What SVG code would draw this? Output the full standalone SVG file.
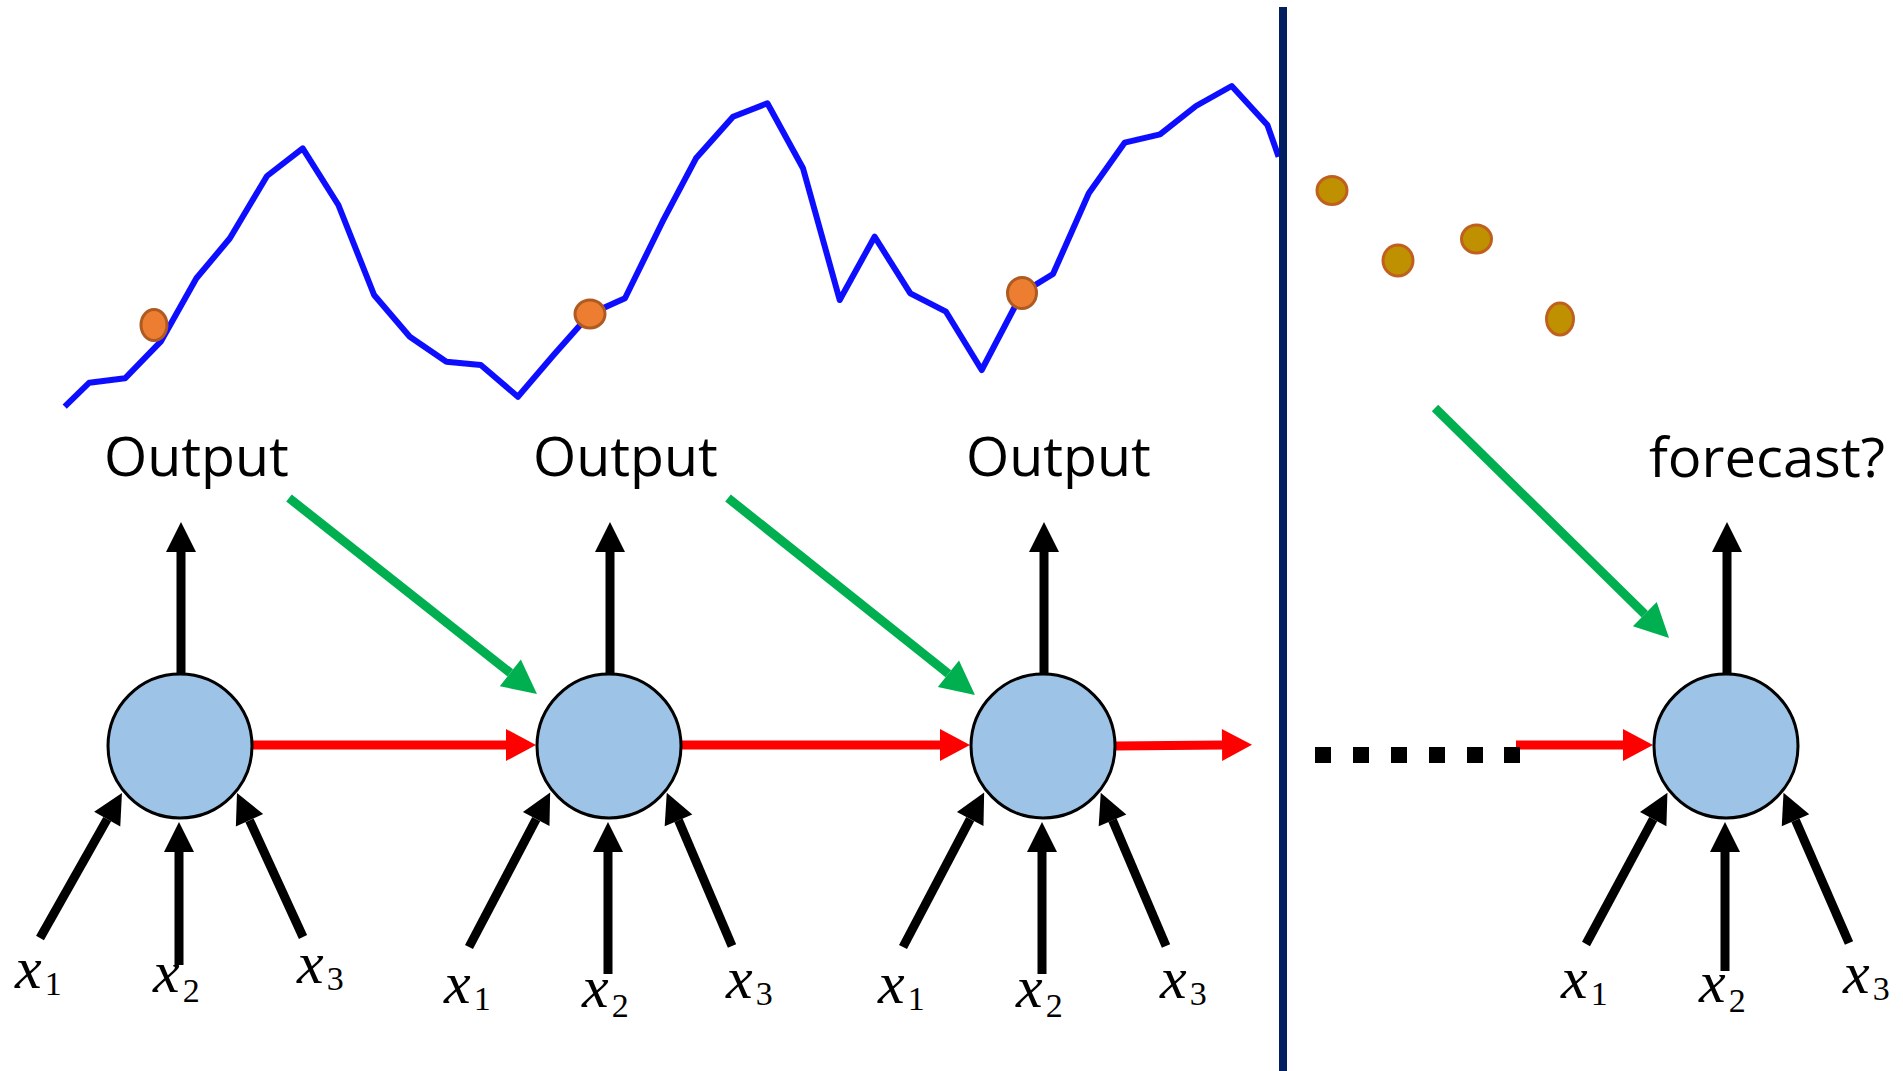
<svg xmlns="http://www.w3.org/2000/svg" width="1903" height="1071" viewBox="0 0 1903 1071">
<style>
.lbl{font-family:"Open Sans","Liberation Sans",sans-serif;font-size:55.5px;fill:#000}
.xv{font-family:"Liberation Serif","Times New Roman",serif;font-style:italic;font-size:60px;fill:#000}
.sub{font-style:normal;font-size:34px}
.node{fill:#9DC3E6;stroke:#000;stroke-width:3}
.blk{stroke:#000;stroke-width:9;fill:none;marker-end:url(#hb)}
.red{stroke:#FF0000;stroke-width:9;fill:none;marker-end:url(#hr)}
.grn{stroke:#00B050;stroke-width:9;fill:none;marker-end:url(#hg)}
.od{fill:#ED7D31;stroke:#AE5A21;stroke-width:3}
.gd{fill:#BF9000;stroke:#C0601E;stroke-width:3}
</style>
<defs>
<filter id="soft" x="-2%" y="-5%" width="104%" height="110%"><feGaussianBlur stdDeviation="0.7"/></filter>
<marker id="hb" markerUnits="userSpaceOnUse" markerWidth="40" markerHeight="40" refX="0" refY="0" orient="auto" viewBox="-2 -20 40 40" overflow="visible"><path d="M0,-15 L30,0 L0,15 Z" fill="#000"/></marker>
<marker id="hr" markerUnits="userSpaceOnUse" markerWidth="40" markerHeight="40" refX="0" refY="0" orient="auto" viewBox="-2 -20 40 40" overflow="visible"><path d="M0,-16 L30,0 L0,16 Z" fill="#FF0000"/></marker>
<marker id="hg" markerUnits="userSpaceOnUse" markerWidth="40" markerHeight="40" refX="0" refY="0" orient="auto" viewBox="-2 -20 40 40" overflow="visible"><path d="M0,-17 L34,0 L0,17 Z" fill="#00B050"/></marker>
</defs>
<rect width="1903" height="1071" fill="#fff"/>

<g id="series">
<polyline fill="none" stroke="#1010FF" stroke-width="6" stroke-linejoin="round" filter="url(#soft)" points="64.7,406.7 89.3,382.7 125,378.3 160.7,341.7 196.4,278.3 229.9,238.3 267,176 302.7,148.3 338.4,205 374.1,295 409.8,336.7 446.4,361.7 480.8,365 517.9,396.7 553.6,355 590,314 625,298.3 662.5,221.7 696,158.3 733,116.7 767.4,103.3 803,168.3 839.7,300 874.6,236.7 910.3,293.3 946,311.7 981.7,370 1022,293 1053,274 1088.8,193.3 1124.6,142.7 1160,134.3 1196,106 1231.7,86 1267.4,125 1278.6,156.7"/>
<ellipse class="od" cx="154" cy="325" rx="13" ry="15.5"/>
<ellipse class="od" cx="590" cy="314" rx="15" ry="14"/>
<ellipse class="od" cx="1022" cy="293" rx="14.5" ry="15.5"/>
<ellipse class="gd" cx="1332" cy="190.5" rx="15" ry="14"/>
<ellipse class="gd" cx="1398" cy="260.5" rx="15" ry="15.5"/>
<ellipse class="gd" cx="1476.5" cy="239" rx="15" ry="14"/>
<ellipse class="gd" cx="1560" cy="319" rx="13.5" ry="16"/>
</g>

<line id="divider" x1="1283" y1="7" x2="1283" y2="1071" stroke="#002060" stroke-width="8"/>

<g id="connectors">
<line class="blk" x1="181" y1="673" x2="181" y2="552"/>
<line class="blk" x1="40" y1="938" x2="107.2" y2="819.1"/>
<line class="blk" x1="179" y1="965" x2="179" y2="852"/>
<line class="blk" x1="303" y1="937" x2="249.5" y2="820.3"/>

<line class="blk" x1="610" y1="673" x2="610" y2="552"/>
<line class="blk" x1="469" y1="947" x2="536.2" y2="819.1"/>
<line class="blk" x1="608" y1="974" x2="608" y2="852"/>
<line class="blk" x1="732" y1="946" x2="678.5" y2="820.3"/>

<line class="blk" x1="1044" y1="673" x2="1044" y2="552"/>
<line class="blk" x1="903" y1="947" x2="970.2" y2="819.1"/>
<line class="blk" x1="1042" y1="974" x2="1042" y2="852"/>
<line class="blk" x1="1166" y1="946" x2="1112.5" y2="820.3"/>

<line class="blk" x1="1727" y1="673" x2="1727" y2="552"/>
<line class="blk" x1="1586" y1="944" x2="1653.2" y2="819.1"/>
<line class="blk" x1="1725" y1="971" x2="1725" y2="852"/>
<line class="blk" x1="1849" y1="943" x2="1795.5" y2="820.3"/>

<line class="red" x1="253" y1="745" x2="506" y2="745"/>
<line class="red" x1="682" y1="745" x2="940" y2="745"/>
<line class="red" x1="1116" y1="746" x2="1222" y2="745"/>
<line class="red" x1="1516" y1="745" x2="1623" y2="745"/>

<line class="grn" x1="289" y1="498" x2="510.3" y2="672.9"/>
<line class="grn" x1="728" y1="498" x2="948.4" y2="673.8"/>
<line class="grn" x1="1435" y1="408" x2="1644.8" y2="614.2"/>

<g id="ellipsis" fill="#000">
<rect x="1315" y="747" width="16" height="16"/>
<rect x="1353" y="747" width="16" height="16"/>
<rect x="1391" y="747" width="16" height="16"/>
<rect x="1429" y="747" width="16" height="16"/>
<rect x="1467" y="747" width="16" height="16"/>
<rect x="1504" y="747" width="16" height="16"/>
</g>
</g>

<g id="node1"><circle class="node" cx="180" cy="746" r="72"/></g>
<g id="node2"><circle class="node" cx="609" cy="746" r="72"/></g>
<g id="node3"><circle class="node" cx="1043" cy="746" r="72"/></g>
<g id="node4"><circle class="node" cx="1726" cy="746" r="72"/></g>

<g id="labels">
<text class="lbl" x="104" y="476">Output</text>
<text class="lbl" x="533" y="476">Output</text>
<text class="lbl" x="966" y="476">Output</text>
<text class="lbl" x="1649" y="477" textLength="236" lengthAdjust="spacingAndGlyphs">forecast?</text>

<text class="xv" x="15" y="988">x<tspan class="sub" dx="3" dy="7">1</tspan></text>
<text class="xv" x="153" y="992">x<tspan class="sub" dx="3" dy="10">2</tspan></text>
<text class="xv" x="297" y="983">x<tspan class="sub" dx="3" dy="7">3</tspan></text>

<text class="xv" x="444" y="1003">x<tspan class="sub" dx="3" dy="7">1</tspan></text>
<text class="xv" x="582" y="1007">x<tspan class="sub" dx="3" dy="10">2</tspan></text>
<text class="xv" x="726" y="998">x<tspan class="sub" dx="3" dy="7">3</tspan></text>

<text class="xv" x="878" y="1003">x<tspan class="sub" dx="3" dy="7">1</tspan></text>
<text class="xv" x="1016" y="1007">x<tspan class="sub" dx="3" dy="10">2</tspan></text>
<text class="xv" x="1160" y="998">x<tspan class="sub" dx="3" dy="7">3</tspan></text>

<text class="xv" x="1561" y="998">x<tspan class="sub" dx="3" dy="7">1</tspan></text>
<text class="xv" x="1699" y="1002">x<tspan class="sub" dx="3" dy="10">2</tspan></text>
<text class="xv" x="1843" y="993">x<tspan class="sub" dx="3" dy="7">3</tspan></text>
</g>
</svg>
